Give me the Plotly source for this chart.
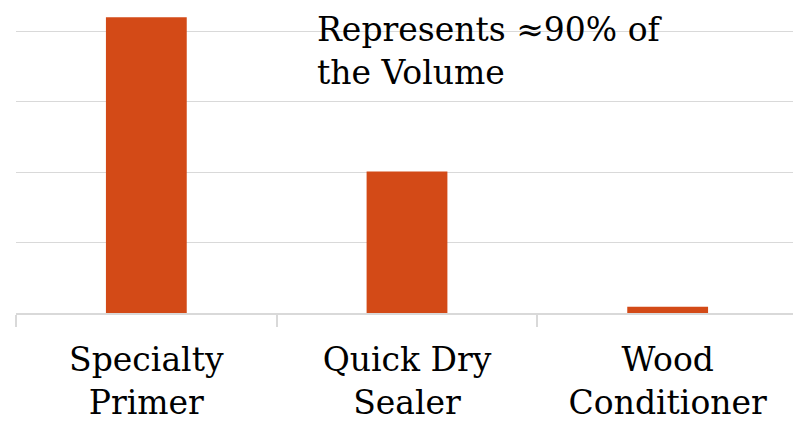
import plotly.graph_objects as go

categories = ["Specialty<br>Primer", "Quick Dry<br>Sealer", "Wood<br>Conditioner"]
values = [4.2, 2.01, 0.09]
note_text = "Represents ≈90% of<br>the Volume"

bar_color = "#D34A17"
grid_color = "#D9D9D9"
font_family = "DejaVu Serif"

fig = go.Figure(
    go.Bar(
        x=categories,
        y=values,
        marker=dict(color=bar_color, line=dict(width=0)),
        width=0.31,
    )
)

fig.update_layout(
    width=801,
    height=422,
    autosize=False,
    margin=dict(l=8, r=11, t=0, b=117),
    paper_bgcolor="white",
    plot_bgcolor="white",
    showlegend=False,
    font=dict(family=font_family, color="#000000", size=33),
)

fig.update_xaxes(
    automargin=False,
    showline=True,
    linecolor=grid_color,
    linewidth=1.5,
    ticks="outside",
    tickson="boundaries",
    ticklen=12,
    tickcolor=grid_color,
    tickwidth=1.5,
    ticklabelstandoff=17,
    tickfont=dict(family=font_family, size=33, color="#000000"),
    showgrid=False,
)

fig.update_yaxes(
    automargin=False,
    range=[0, 4.33],
    dtick=1,
    showgrid=True,
    gridcolor=grid_color,
    gridwidth=1,
    showticklabels=False,
    zeroline=False,
    ticks="",
)

# closing boundary tick at the right end of the category axis
fig.add_shape(
    type="line",
    xref="paper",
    yref="paper",
    x0=1, x1=1,
    ysizemode="pixel",
    yanchor=0,
    y0=0, y1=-12,
    line=dict(color=grid_color, width=1.5),
    layer="above",
)

fig.add_annotation(
    text=note_text,
    xref="paper",
    yref="paper",
    x=0.382,
    y=1.0,
    xanchor="left",
    yanchor="top",
    align="left",
    showarrow=False,
    font=dict(family=font_family, size=33, color="#000000"),
)

fig.write_html("out.html")
